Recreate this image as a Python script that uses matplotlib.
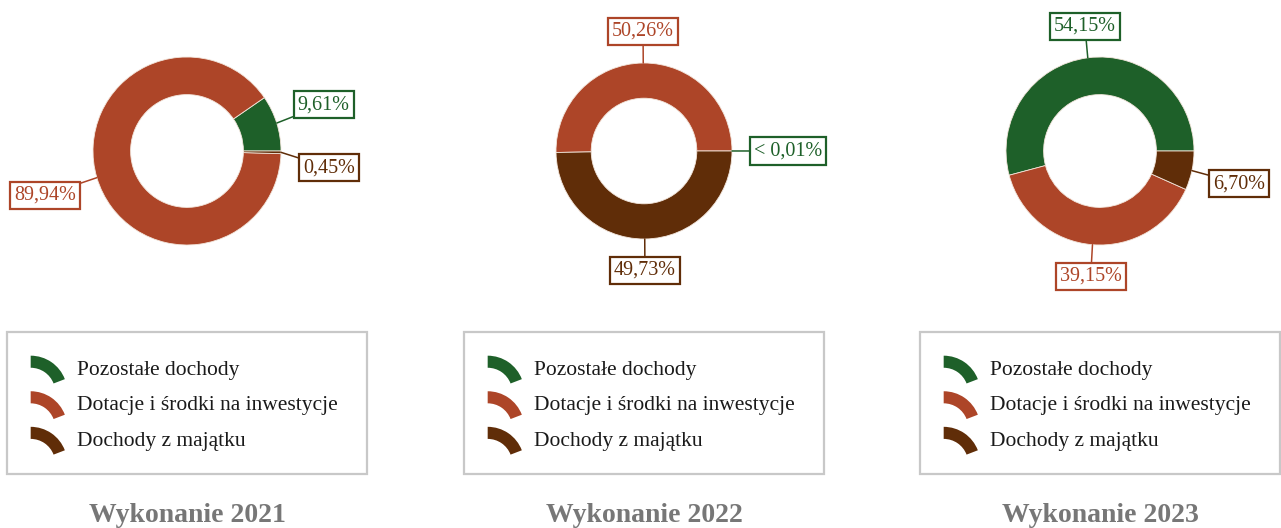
# three donut charts: structure of income, 2021-2023

import math
import matplotlib.pyplot as plt
from matplotlib.patches import Wedge
from matplotlib.legend_handler import HandlerPatch

plt.rcParams['font.family'] = ['Liberation Serif', 'DejaVu Serif']

# data
categories = ['Pozostałe dochody', 'Dotacje i środki na inwestycje', 'Dochody z majątku']
colors = ['#1e6029', '#ad4528', '#602d08']
years = ['2021', '2022', '2023']
values_2021 = [9.61, 89.94, 0.45]
values_2022 = [0.005, 50.26, 49.73]   # first share shown as "< 0,01%"
values_2023 = [54.15, 39.15, 6.70]

W, H = 1281, 528
fig = plt.figure(figsize=(W / 100, H / 100), dpi=100)
ax = fig.add_axes([0, 0, 1, 1])

panel_x = [187, 644, 1100]
panel_r = [94, 88, 94]
cy = H - 151


def fmt(v):
    if v < 0.01:
        return '< 0,01%'
    return f'{v:.2f}%'.replace('.', ',')


# legend icon: a piece of a ring, like the donut itself
class ArcHandler(HandlerPatch):
    def create_artists(self, legend, orig_handle, xdescent, ydescent,
                       width, height, fontsize, trans):
        r = width
        t1 = math.degrees(math.asin((r - height) / r))
        p = Wedge((-xdescent, -ydescent + height - r), r, t1, 90, width=0.33 * r,
                  facecolor=orig_handle.get_facecolor(), edgecolor='none',
                  transform=trans)
        return [p]


for values, cx, r, year in zip([values_2021, values_2022, values_2023],
                               panel_x, panel_r, years):
    wedges, _ = ax.pie(values, colors=colors, radius=r, center=(cx, cy),
                       startangle=0, counterclock=True,
                       wedgeprops=dict(width=0.4 * r, edgecolor='#f3e6dc', linewidth=0.6))

    # label positions along the middle of each slice
    placed = []
    for w, v, col in zip(wedges, values, colors):
        mid = math.radians((w.theta1 + w.theta2) / 2)
        c, s = math.cos(mid), math.sin(mid)
        p = dict(xy=(cx + r * c, cy + r * s), tx=cx + (r + 22) * c,
                 ty=cy + (r + 22) * s, text=fmt(v), col=col)
        if abs(c) > 0.4:
            p['ha'] = 'left' if c > 0 else 'right'
            p['va'] = 'center'
            p['ty'] += 40 * s
        else:
            p['ha'] = 'center'
            p['va'] = 'bottom' if s > 0 else 'top'
        placed.append(p)

    # keep labels on one side from overlapping
    for side in ('left', 'right'):
        group = sorted([p for p in placed if p['ha'] == side], key=lambda p: -p['ty'])
        for a, b in zip(group, group[1:]):
            if a['ty'] - b['ty'] < 63:
                b['ty'] = a['ty'] - 63

    for p in placed:
        ax.annotate(p['text'], xy=p['xy'], xytext=(p['tx'], p['ty']),
                    ha=p['ha'], va=p['va'], color=p['col'], fontsize=14.5,
                    bbox=dict(boxstyle='square,pad=0.2', fc='white', ec=p['col'], lw=1.6),
                    arrowprops=dict(arrowstyle='-', color=p['col'], lw=1.1,
                                    shrinkA=0, shrinkB=0))

    leg = fig.legend(wedges, categories, loc='upper left',
                     bbox_to_anchor=((cx - 180) / W, (H - 478) / H, 360 / W, 146 / H),
                     mode='expand', borderaxespad=0, fancybox=False,
                     edgecolor='#c8c8c8', framealpha=1, prop=dict(size=15.5),
                     labelcolor='#1a1a1a', handlelength=1.7, handleheight=1.3,
                     handletextpad=0.45, labelspacing=0.54, borderpad=1.1,
                     handler_map={Wedge: ArcHandler()})
    leg.get_frame().set_linewidth(1.6)

    fig.text(cx / W, (H - 515) / H, 'Wykonanie ' + year, ha='center', va='center',
             fontsize=20, fontweight='bold', color='#777777')

ax.set_xlim(0, W)
ax.set_ylim(0, H)
ax.set_aspect('equal')
ax.axis('off')

fig.savefig('out.png', dpi=100, facecolor='white')
